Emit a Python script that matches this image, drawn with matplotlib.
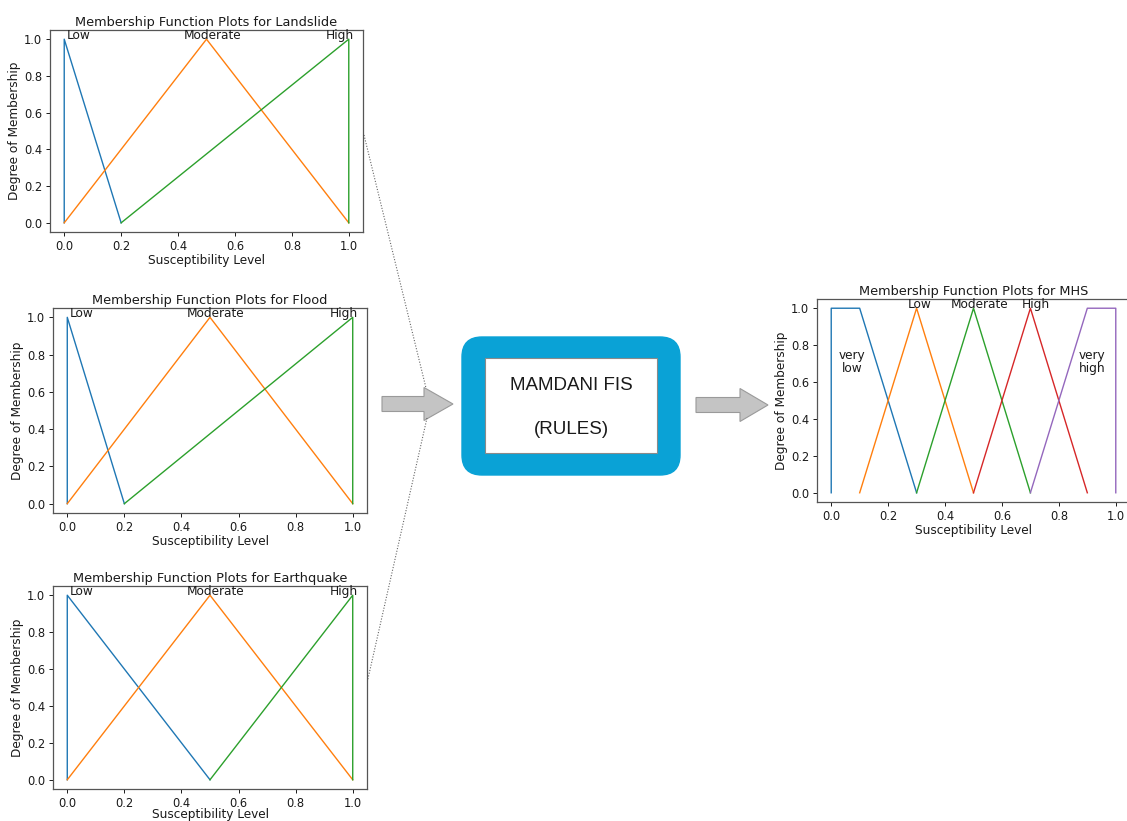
import matplotlib.pyplot as plt
from matplotlib.patches import FancyBboxPatch, Rectangle, Polygon

# membership functions (x, y) for each input
ls_low_x = [0, 0, 0.2]
ls_low_y = [0, 1, 0]
ls_mod_x = [0, 0.5, 1]
ls_mod_y = [0, 1, 0]
ls_high_x = [0.2, 1, 1]
ls_high_y = [0, 1, 0]

fl_low_x = [0, 0, 0.2]
fl_low_y = [0, 1, 0]
fl_mod_x = [0, 0.5, 1]
fl_mod_y = [0, 1, 0]
fl_high_x = [0.2, 1, 1]
fl_high_y = [0, 1, 0]

eq_low_x = [0, 0, 0.5]
eq_low_y = [0, 1, 0]
eq_mod_x = [0, 0.5, 1]
eq_mod_y = [0, 1, 0]
eq_high_x = [0.5, 1, 1]
eq_high_y = [0, 1, 0]

# output (MHS)
vlow_x = [0, 0, 0.1, 0.3]
vlow_y = [0, 1, 1, 0]
low_x = [0.1, 0.3, 0.5]
low_y = [0, 1, 0]
mod_x = [0.3, 0.5, 0.7]
mod_y = [0, 1, 0]
high_x = [0.5, 0.7, 0.9]
high_y = [0, 1, 0]
vhigh_x = [0.7, 0.9, 1, 1]
vhigh_y = [0, 1, 1, 0]

in_labels = ['Low', 'Moderate', 'High']
in_label_x = [0.05, 0.52, 0.968]
out_labels = ['Low', 'Moderate', 'High']
out_label_x = [0.312, 0.522, 0.718]
ticks = [0.0, 0.2, 0.4, 0.6, 0.8, 1.0]

W, H = 1127, 821
fig = plt.figure(figsize=(W / 100, H / 100), dpi=100)
fig.patch.set_facecolor('white')

# overlay in pixel coords for the diagram parts
ov = fig.add_axes([0, 0, 1, 1])
ov.set_xlim(0, W)
ov.set_ylim(H, 0)
ov.axis('off')
ov.patch.set_alpha(0)

TXT = '#1a1a1a'


def px_axes(left, top, right, bottom):
    return fig.add_axes([left / W, 1 - bottom / H, (right - left) / W, (bottom - top) / H])


def style(ax, title, xpad=1):
    ax.set_xlim(-0.05, 1.05)
    ax.set_ylim(-0.05, 1.05)
    ax.set_xticks(ticks)
    ax.set_yticks(ticks)
    ax.tick_params(labelsize=8.3, length=3, width=0.7, colors=TXT, pad=2.5)
    for s in ax.spines.values():
        s.set_color('#555555')
        s.set_linewidth(0.9)
    ax.set_title(title, fontsize=9.3, pad=3, color=TXT)
    ax.set_xlabel('Susceptibility Level', fontsize=8.7, labelpad=xpad, color=TXT)
    ax.set_ylabel('Degree of Membership', fontsize=8.7, labelpad=2, color=TXT)


def input_plot(ax, title, data, xpad=1):
    for (x, y), c in zip(data, ['C0', 'C1', 'C2']):
        ax.plot(x, y, color=c, lw=1.0)
    for lab, lx in zip(in_labels, in_label_x):
        ax.text(lx, 1.0, lab, ha='center', va='baseline', fontsize=8.7, color=TXT)
    style(ax, title, xpad)


ax1 = px_axes(50, 30, 363, 232)
input_plot(ax1, 'Membership Function Plots for Landslide',
           [(ls_low_x, ls_low_y), (ls_mod_x, ls_mod_y), (ls_high_x, ls_high_y)])
ax2 = px_axes(53, 308, 367, 513)
input_plot(ax2, 'Membership Function Plots for Flood',
           [(fl_low_x, fl_low_y), (fl_mod_x, fl_mod_y), (fl_high_x, fl_high_y)])
ax3 = px_axes(53, 586, 367, 789)
input_plot(ax3, 'Membership Function Plots for Earthquake',
           [(eq_low_x, eq_low_y), (eq_mod_x, eq_mod_y), (eq_high_x, eq_high_y)], xpad=-1)

ax4 = px_axes(817, 299, 1130, 502)
for (x, y), c in zip([(vlow_x, vlow_y), (low_x, low_y), (mod_x, mod_y),
                      (high_x, high_y), (vhigh_x, vhigh_y)], ['C0', 'C1', 'C2', 'C3', 'C4']):
    ax4.plot(x, y, color=c, lw=1.0)
for lab, lx in zip(out_labels, out_label_x):
    ax4.text(lx, 1.0, lab, ha='center', va='baseline', fontsize=8.7, color=TXT)
ax4.text(0.074, 0.71, 'very\nlow', ha='center', va='center', fontsize=8.7, color=TXT, linespacing=1.0)
ax4.text(0.916, 0.71, 'very\nhigh', ha='center', va='center', fontsize=8.7, color=TXT, linespacing=1.0)
style(ax4, 'Membership Function Plots for MHS')

# dotted connectors
ov.plot([364, 426], [135, 388], ls=(0, (1, 1.5)), color='#666666', lw=0.8)
ov.plot([427, 367], [418, 683], ls=(0, (1, 1.5)), color='#666666', lw=0.8)

# arrows
for x0, xs, xt, yc in [(382, 424, 453, 404), (696, 740, 768, 405)]:
    pts = [(x0, yc - 7.5), (xs, yc - 7.5), (xs, yc - 16.5), (xt, yc),
           (xs, yc + 16.5), (xs, yc + 7.5), (x0, yc + 7.5)]
    ov.add_patch(Polygon(pts, closed=True, facecolor='#c4c4c4', edgecolor='#9a9a9a', lw=0.8))

# Mamdani box
r = 20
ov.add_patch(FancyBboxPatch((462 + r, 337 + r), 218 - 2 * r, 138 - 2 * r,
                            boxstyle=f'round,pad={r}', facecolor='#0aa2d6', edgecolor='#0aa2d6'))
ov.add_patch(Rectangle((485, 358), 172, 95, facecolor='white', edgecolor='#8a8a8a', lw=0.8))
ov.text(571, 385, 'MAMDANI FIS', ha='center', va='center', fontsize=13.5,
        family='Liberation Sans', color=TXT)
ov.text(571, 430, '(RULES)', ha='center', va='center', fontsize=13.5,
        family='Liberation Sans', color=TXT)

fig.savefig('out.png', dpi=100)
